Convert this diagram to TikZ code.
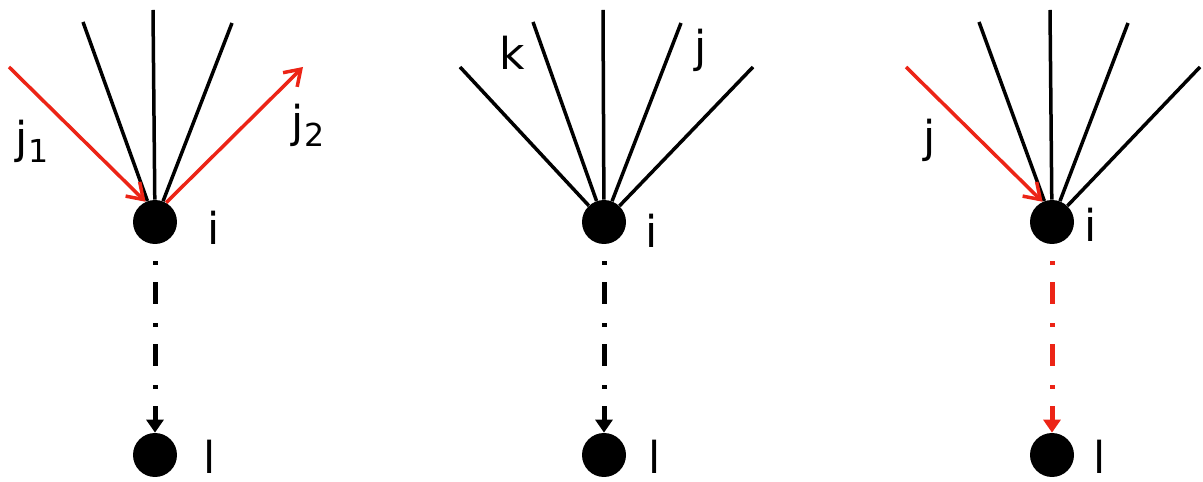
\documentclass[tikz,border=0pt]{standalone}
\usepackage{fontspec}
\setmainfont{DejaVu Sans}
\usetikzlibrary{arrows.meta}
\definecolor{hopred}{RGB}{236,36,22}
\tikzset{
  vertex/.style={circle,fill=black,inner sep=0pt,minimum size=0.88cm},
  spoke/.style={line width=0.07cm},
  hop/.style={line width=0.07cm,hopred,-{Straight Barb[length=0.3cm,width=0.4cm]}},
  link/.style={line width=0.1cm,dash pattern=on 0.08cm off 0.34cm on 0.44cm off 0.38cm,
    shorten <=0.34cm,-{Triangle[length=0.26cm,width=0.34cm]}},
  lbl/.style={anchor=base,inner sep=0pt,font=\fontsize{25}{30}\selectfont}
}
\newcommand{\jsub}[1]{j\raisebox{-0.2em}{\fontsize{18}{20}\selectfont #1}}
\begin{document}
\begin{tikzpicture}[x=0.02cm,y=-0.02cm]
\useasboundingbox (0,0) rectangle (1203,482);
\node[vertex] (i1) at (155,222) {};
\node[vertex] (l1) at (155,455) {};
\node[vertex] (i2) at (604,222) {};
\node[vertex] (l2) at (604,455) {};
\node[vertex] (i3) at (1052,222) {};
\node[vertex] (l3) at (1052,455) {};

\foreach \x/\y [count=\k] in {83/22,153/10,232/23}
  {\coordinate (a\k) at (\x,\y); \draw[spoke] (a\k) -- (i1);}
\foreach \x/\y [count=\k] in {460/67,533/22,603/10,681/23,753/67}
  {\coordinate (b\k) at (\x,\y); \draw[spoke] (b\k) -- (i2);}
\foreach \x/\y [count=\k] in {979/22,1050/10,1128/23,1200/67}
  {\coordinate (c\k) at (\x,\y); \draw[spoke] (c\k) -- (i3);}

\coordinate (ain) at (9,67);
\coordinate (aout) at (303,67);
\coordinate (cin) at (906,67);
\draw[hop] (ain) -- (i1.115);
\draw[hop] (i1.60) -- (aout);
\draw[hop] (cin) -- (i3.115);

\draw[link] (i1) -- (l1);
\draw[link] (i2) -- (l2);
\draw[link,hopred] (i3) -- (l3);

\node[lbl] (tj1) at (32,154) {\jsub{1}};
\node[lbl] (tj2) at (308,138) {\jsub{2}};
\node[lbl] (ti1) at (214,245) {i};
\node[lbl] (tl1) at (210,474) {l};
\node[lbl] (tk) at (512,70) {k};
\node[lbl] (tj) at (701,63) {j};
\node[lbl] (ti2) at (652,248) {i};
\node[lbl] (tl2) at (655,474) {l};
\node[lbl] (tj3) at (930,153) {j};
\node[lbl] (ti3) at (1091,242) {i};
\node[lbl] (tl3) at (1100,474) {l};
\end{tikzpicture}
\end{document}
